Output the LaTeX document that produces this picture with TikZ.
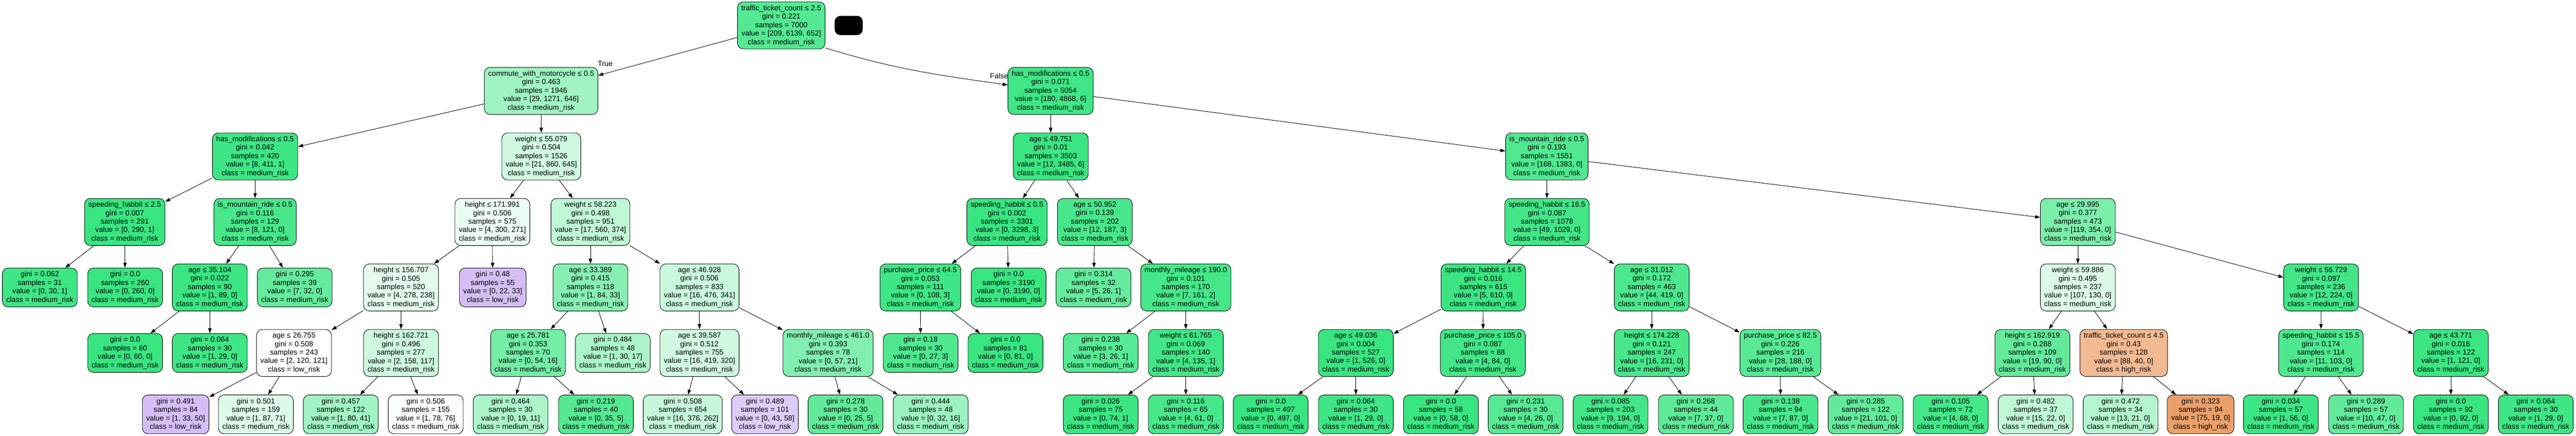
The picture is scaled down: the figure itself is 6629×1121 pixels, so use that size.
\documentclass[tikz,border=0pt]{standalone}
\usepackage{fontspec}
\setmainfont{Liberation Sans}
\usetikzlibrary{arrows.meta}
\definecolor{hirisk}{HTML}{E58139}
\definecolor{medrisk}{HTML}{39E581}
\definecolor{lorisk}{HTML}{8139E5}
\begin{document}
\begin{tikzpicture}[
  x=1pt,y=1pt,
  >={Triangle[length=13pt,width=9pt]},
  decision/.style={draw,rounded corners=15pt,very thick,minimum height=121pt,inner xsep=10pt,inner ysep=2pt,align=center},
  leaf/.style={draw,rounded corners=15pt,very thick,minimum height=100pt,inner xsep=10pt,inner ysep=2pt,align=center},
  blob/.style={draw,fill=black,rounded corners=15pt,minimum width=72pt,minimum height=49pt},
  every node/.style={font=\fontsize{19}{21.8}\selectfont}
]
\useasboundingbox (0,0) rectangle (6629,-1121);

% --- Nodes ---
% rank 0
\node[decision,fill=medrisk!86!white] (root) at (2010.5,-65.5) {traffic\_ticket\_count ≤ 2.5\\gini = 0.221\\samples = 7000\\value = [209, 6139, 652]\\class = medium\_risk};
\node[blob] (key) at (2184,-65.5) {};

% rank 1
\node[decision,fill=medrisk!48!white] (cmt) at (1392.5,-234) {commute\_with\_motorcycle ≤ 0.5\\gini = 0.463\\samples = 1946\\value = [29, 1271, 646]\\class = medium\_risk};
\node[decision,fill=medrisk!96!white] (hmA) at (2703.5,-234) {has\_modifications ≤ 0.5\\gini = 0.071\\samples = 5054\\value = [180, 4868, 6]\\class = medium\_risk};
\node (lblT) at (1557.5,-164.5) {True};
\node (lblF) at (2571,-195) {False};

% rank 2
\node[decision,fill=medrisk!98!white] (hmB) at (656.5,-402.5) {has\_modifications ≤ 0.5\\gini = 0.042\\samples = 420\\value = [8, 411, 1]\\class = medium\_risk};
\node[decision,fill=medrisk!24!white] (wtA) at (1393,-402.5) {weight ≤ 55.079\\gini = 0.504\\samples = 1526\\value = [21, 860, 645]\\class = medium\_risk};
\node[decision,fill=medrisk!99!white] (agA) at (2704,-402.5) {age ≤ 49.751\\gini = 0.01\\samples = 3503\\value = [12, 3485, 6]\\class = medium\_risk};
\node[decision,fill=medrisk!88!white] (mtA) at (3980.5,-402.5) {is\_mountain\_ride ≤ 0.5\\gini = 0.193\\samples = 1551\\value = [168, 1383, 0]\\class = medium\_risk};

% rank 3
\node[decision,fill=medrisk] (spA) at (321,-571) {speeding\_habbit ≤ 2.5\\gini = 0.007\\samples = 291\\value = [0, 290, 1]\\class = medium\_risk};
\node[decision,fill=medrisk!93!white] (mtB) at (656.5,-571) {is\_mountain\_ride ≤ 0.5\\gini = 0.116\\samples = 129\\value = [8, 121, 0]\\class = medium\_risk};
\node[decision,fill=medrisk!10!white] (htA) at (1267,-571) {height ≤ 171.991\\gini = 0.506\\samples = 575\\value = [4, 300, 271]\\class = medium\_risk};
\node[decision,fill=medrisk!32!white] (wtB) at (1519.5,-571) {weight ≤ 58.223\\gini = 0.498\\samples = 951\\value = [17, 560, 374]\\class = medium\_risk};
\node[decision,fill=medrisk] (spB) at (2591.5,-571) {speeding\_habbit ≤ 0.5\\gini = 0.002\\samples = 3301\\value = [0, 3298, 3]\\class = medium\_risk};
\node[decision,fill=medrisk!92!white] (agB) at (2817.5,-571) {age ≤ 50.952\\gini = 0.139\\samples = 202\\value = [12, 187, 3]\\class = medium\_risk};
\node[decision,fill=medrisk!95!white] (spC) at (3981,-571) {speeding\_habbit ≤ 16.5\\gini = 0.087\\samples = 1078\\value = [49, 1029, 0]\\class = medium\_risk};
\node[decision,fill=medrisk!66!white] (agC) at (5347,-571) {age ≤ 29.995\\gini = 0.377\\samples = 473\\value = [119, 354, 0]\\class = medium\_risk};

% rank 4
\node[leaf,fill=medrisk!97!white] (L1) at (102.5,-739.5) {gini = 0.062\\samples = 31\\value = [0, 30, 1]\\class = medium\_risk};
\node[leaf,fill=medrisk] (L2) at (322,-739.5) {gini = 0.0\\samples = 260\\value = [0, 260, 0]\\class = medium\_risk};
\node[decision,fill=medrisk!99!white] (agD) at (540,-739.5) {age ≤ 35.104\\gini = 0.022\\samples = 90\\value = [1, 89, 0]\\class = medium\_risk};
\node[leaf,fill=medrisk!78!white] (L3) at (758.5,-739.5) {gini = 0.295\\samples = 39\\value = [7, 32, 0]\\class = medium\_risk};
\node[decision,fill=medrisk!14!white] (htB) at (1032,-739.5) {height ≤ 156.707\\gini = 0.505\\samples = 520\\value = [4, 278, 238]\\class = medium\_risk};
\node[leaf,fill=lorisk!33!white] (L4) at (1268,-739.5) {gini = 0.48\\samples = 55\\value = [0, 22, 33]\\class = low\_risk};
\node[decision,fill=medrisk!60!white] (agE) at (1519.5,-739.5) {age ≤ 33.389\\gini = 0.415\\samples = 118\\value = [1, 84, 33]\\class = medium\_risk};
\node[decision,fill=medrisk!27!white] (agF) at (1800,-739.5) {age ≤ 46.928\\gini = 0.506\\samples = 833\\value = [16, 476, 341]\\class = medium\_risk};
\node[decision,fill=medrisk!97!white] (prA) at (2368.5,-739.5) {purchase\_price ≤ 64.5\\gini = 0.053\\samples = 111\\value = [0, 108, 3]\\class = medium\_risk};
\node[leaf,fill=medrisk] (L5) at (2595.5,-739.5) {gini = 0.0\\samples = 3190\\value = [0, 3190, 0]\\class = medium\_risk};
\node[leaf,fill=medrisk!78!white] (L6) at (2814,-739.5) {gini = 0.314\\samples = 32\\value = [5, 26, 1]\\class = medium\_risk};
\node[decision,fill=medrisk!94!white] (miA) at (3051.5,-739.5) {monthly\_mileage ≤ 190.0\\gini = 0.101\\samples = 170\\value = [7, 161, 2]\\class = medium\_risk};
\node[decision,fill=medrisk!99!white] (spD) at (3817,-739.5) {speeding\_habbit ≤ 14.5\\gini = 0.016\\samples = 615\\value = [5, 610, 0]\\class = medium\_risk};
\node[decision,fill=medrisk!90!white] (agG) at (4250.5,-739.5) {age ≤ 31.012\\gini = 0.172\\samples = 463\\value = [44, 419, 0]\\class = medium\_risk};
\node[decision,fill=medrisk!18!white] (wtC) at (5347,-739.5) {weight ≤ 59.886\\gini = 0.495\\samples = 237\\value = [107, 130, 0]\\class = medium\_risk};
\node[decision,fill=medrisk!95!white] (wtD) at (5973,-739.5) {weight ≤ 56.729\\gini = 0.097\\samples = 236\\value = [12, 224, 0]\\class = medium\_risk};

% rank 5
\node[leaf,fill=medrisk] (L7) at (322,-908) {gini = 0.0\\samples = 60\\value = [0, 60, 0]\\class = medium\_risk};
\node[leaf,fill=medrisk!97!white] (L8) at (540,-908) {gini = 0.064\\samples = 30\\value = [1, 29, 0]\\class = medium\_risk};
\node[decision,fill=lorisk!1!white] (agH) at (756.5,-908) {age ≤ 26.755\\gini = 0.508\\samples = 243\\value = [2, 120, 121]\\class = low\_risk};
\node[decision,fill=medrisk!26!white] (htC) at (1032,-908) {height ≤ 162.721\\gini = 0.496\\samples = 277\\value = [2, 158, 117]\\class = medium\_risk};
\node[decision,fill=medrisk!70!white] (agI) at (1359,-908) {age ≤ 25.781\\gini = 0.353\\samples = 70\\value = [0, 54, 16]\\class = medium\_risk};
\node[leaf,fill=medrisk!42!white] (L9) at (1577,-908) {gini = 0.484\\samples = 48\\value = [1, 30, 17]\\class = medium\_risk};
\node[decision,fill=medrisk!23!white] (agJ) at (1800,-908) {age ≤ 39.587\\gini = 0.512\\samples = 755\\value = [16, 419, 320]\\class = medium\_risk};
\node[decision,fill=medrisk!63!white] (miB) at (2131,-908) {monthly\_mileage ≤ 461.0\\gini = 0.393\\samples = 78\\value = [0, 57, 21]\\class = medium\_risk};
\node[leaf,fill=medrisk!89!white] (L10) at (2369,-908) {gini = 0.18\\samples = 30\\value = [0, 27, 3]\\class = medium\_risk};
\node[leaf,fill=medrisk] (L11) at (2587.5,-908) {gini = 0.0\\samples = 81\\value = [0, 81, 0]\\class = medium\_risk};
\node[leaf,fill=medrisk!85!white] (L12) at (2832.5,-908) {gini = 0.238\\samples = 30\\value = [3, 26, 1]\\class = medium\_risk};
\node[decision,fill=medrisk!96!white] (wtE) at (3051.5,-908) {weight ≤ 61.765\\gini = 0.069\\samples = 140\\value = [4, 135, 1]\\class = medium\_risk};
\node[decision,fill=medrisk] (agK) at (3489,-908) {age ≤ 49.036\\gini = 0.004\\samples = 527\\value = [1, 526, 0]\\class = medium\_risk};
\node[decision,fill=medrisk!95!white] (prB) at (3816,-908) {purchase\_price ≤ 105.0\\gini = 0.087\\samples = 88\\value = [4, 84, 0]\\class = medium\_risk};
\node[decision,fill=medrisk!93!white] (htD) at (4250.5,-908) {height ≤ 174.228\\gini = 0.121\\samples = 247\\value = [16, 231, 0]\\class = medium\_risk};
\node[decision,fill=medrisk!85!white] (prC) at (4581.5,-908) {purchase\_price ≤ 82.5\\gini = 0.226\\samples = 216\\value = [28, 188, 0]\\class = medium\_risk};
\node[decision,fill=medrisk!79!white] (htE) at (5230,-908) {height ≤ 162.919\\gini = 0.288\\samples = 109\\value = [19, 90, 0]\\class = medium\_risk};
\node[decision,fill=hirisk!55!white] (tkA) at (5465,-908) {traffic\_ticket\_count ≤ 4.5\\gini = 0.43\\samples = 128\\value = [88, 40, 0]\\class = high\_risk};
\node[decision,fill=medrisk!89!white] (spE) at (5972.5,-908) {speeding\_habbit ≤ 15.5\\gini = 0.174\\samples = 114\\value = [11, 103, 0]\\class = medium\_risk};
\node[decision,fill=medrisk!99!white] (agL) at (6307,-908) {age ≤ 43.771\\gini = 0.016\\samples = 122\\value = [1, 121, 0]\\class = medium\_risk};

% rank 6
\node[leaf,fill=lorisk!33!white] (L13) at (452,-1066) {gini = 0.491\\samples = 84\\value = [1, 33, 50]\\class = low\_risk};
\node[leaf,fill=medrisk!18!white] (L14) at (658.5,-1066) {gini = 0.501\\samples = 159\\value = [1, 87, 71]\\class = medium\_risk};
\node[leaf,fill=medrisk!48!white] (L15) at (877,-1066) {gini = 0.457\\samples = 122\\value = [1, 80, 41]\\class = medium\_risk};
\node[leaf,fill=medrisk!3!white] (L16) at (1095.5,-1066) {gini = 0.506\\samples = 155\\value = [1, 78, 76]\\class = medium\_risk};
\node[leaf,fill=medrisk!42!white] (L17) at (1314,-1066) {gini = 0.464\\samples = 30\\value = [0, 19, 11]\\class = medium\_risk};
\node[leaf,fill=medrisk!86!white] (L18) at (1533.5,-1066) {gini = 0.219\\samples = 40\\value = [0, 35, 5]\\class = medium\_risk};
\node[leaf,fill=medrisk!29!white] (L19) at (1757,-1066) {gini = 0.508\\samples = 654\\value = [16, 376, 262]\\class = medium\_risk};
\node[leaf,fill=lorisk!26!white] (L20) at (1968.5,-1066) {gini = 0.489\\samples = 101\\value = [0, 43, 58]\\class = low\_risk};
\node[leaf,fill=medrisk!80!white] (L21) at (2176,-1066) {gini = 0.278\\samples = 30\\value = [0, 25, 5]\\class = medium\_risk};
\node[leaf,fill=medrisk!50!white] (L22) at (2395,-1066) {gini = 0.444\\samples = 48\\value = [0, 32, 16]\\class = medium\_risk};
\node[leaf,fill=medrisk!99!white] (L23) at (2832.5,-1066) {gini = 0.026\\samples = 75\\value = [0, 74, 1]\\class = medium\_risk};
\node[leaf,fill=medrisk!93!white] (L24) at (3051.5,-1066) {gini = 0.116\\samples = 65\\value = [4, 61, 0]\\class = medium\_risk};
\node[leaf,fill=medrisk] (L25) at (3270,-1066) {gini = 0.0\\samples = 497\\value = [0, 497, 0]\\class = medium\_risk};
\node[leaf,fill=medrisk!97!white] (L26) at (3489,-1066) {gini = 0.064\\samples = 30\\value = [1, 29, 0]\\class = medium\_risk};
\node[leaf,fill=medrisk] (L27) at (3708,-1066) {gini = 0.0\\samples = 58\\value = [0, 58, 0]\\class = medium\_risk};
\node[leaf,fill=medrisk!85!white] (L28) at (3926,-1066) {gini = 0.231\\samples = 30\\value = [4, 26, 0]\\class = medium\_risk};
\node[leaf,fill=medrisk!95!white] (L29) at (4144.5,-1066) {gini = 0.085\\samples = 203\\value = [9, 194, 0]\\class = medium\_risk};
\node[leaf,fill=medrisk!81!white] (L30) at (4364,-1066) {gini = 0.268\\samples = 44\\value = [7, 37, 0]\\class = medium\_risk};
\node[leaf,fill=medrisk!92!white] (L31) at (4582,-1066) {gini = 0.138\\samples = 94\\value = [7, 87, 0]\\class = medium\_risk};
\node[leaf,fill=medrisk!79!white] (L32) at (4801,-1066) {gini = 0.285\\samples = 122\\value = [21, 101, 0]\\class = medium\_risk};
\node[leaf,fill=medrisk!94!white] (L33) at (5020,-1066) {gini = 0.105\\samples = 72\\value = [4, 68, 0]\\class = medium\_risk};
\node[leaf,fill=medrisk!32!white] (L34) at (5238.5,-1066) {gini = 0.482\\samples = 37\\value = [15, 22, 0]\\class = medium\_risk};
\node[leaf,fill=medrisk!38!white] (L35) at (5457,-1066) {gini = 0.472\\samples = 34\\value = [13, 21, 0]\\class = medium\_risk};
\node[leaf,fill=hirisk!75!white] (L36) at (5663,-1066) {gini = 0.323\\samples = 94\\value = [75, 19, 0]\\class = high\_risk};
\node[leaf,fill=medrisk!98!white] (L37) at (5869.5,-1066) {gini = 0.034\\samples = 57\\value = [1, 56, 0]\\class = medium\_risk};
\node[leaf,fill=medrisk!79!white] (L38) at (6088.5,-1066) {gini = 0.289\\samples = 57\\value = [10, 47, 0]\\class = medium\_risk};
\node[leaf,fill=medrisk] (L39) at (6307,-1066) {gini = 0.0\\samples = 92\\value = [0, 92, 0]\\class = medium\_risk};
\node[leaf,fill=medrisk!97!white] (L40) at (6525.5,-1066) {gini = 0.064\\samples = 30\\value = [1, 29, 0]\\class = medium\_risk};

% --- Arrows ---
% root -> True / False branches
\draw[->,very thick] (root) -- (cmt);
\draw[->,very thick] (root.-27) to[out=-17,in=172] (hmA);
% rank 1 -> rank 2
\draw[->,very thick] (cmt) -- (hmB);  \draw[->,very thick] (cmt) -- (wtA);
\draw[->,very thick] (hmA) -- (agA);  \draw[->,very thick] (hmA) -- (mtA);
% rank 2 -> rank 3
\draw[->,very thick] (hmB) -- (spA);  \draw[->,very thick] (hmB) -- (mtB);
\draw[->,very thick] (wtA) -- (htA);  \draw[->,very thick] (wtA) -- (wtB);
\draw[->,very thick] (agA) -- (spB);  \draw[->,very thick] (agA) -- (agB);
\draw[->,very thick] (mtA) -- (spC);  \draw[->,very thick] (mtA) -- (agC);
% rank 3 -> rank 4
\draw[->,very thick] (spA) -- (L1);   \draw[->,very thick] (spA) -- (L2);
\draw[->,very thick] (mtB) -- (agD);  \draw[->,very thick] (mtB) -- (L3);
\draw[->,very thick] (htA) -- (htB);  \draw[->,very thick] (htA) -- (L4);
\draw[->,very thick] (wtB) -- (agE);  \draw[->,very thick] (wtB) -- (agF);
\draw[->,very thick] (spB) -- (prA);  \draw[->,very thick] (spB) -- (L5);
\draw[->,very thick] (agB) -- (L6);   \draw[->,very thick] (agB) -- (miA);
\draw[->,very thick] (spC) -- (spD);  \draw[->,very thick] (spC) -- (agG);
\draw[->,very thick] (agC) -- (wtC);  \draw[->,very thick] (agC) -- (wtD);
% rank 4 -> rank 5
\draw[->,very thick] (agD) -- (L7);   \draw[->,very thick] (agD) -- (L8);
\draw[->,very thick] (htB) -- (agH);  \draw[->,very thick] (htB) -- (htC);
\draw[->,very thick] (agE) -- (agI);  \draw[->,very thick] (agE) -- (L9);
\draw[->,very thick] (agF) -- (agJ);  \draw[->,very thick] (agF) -- (miB);
\draw[->,very thick] (prA) -- (L10);  \draw[->,very thick] (prA) -- (L11);
\draw[->,very thick] (miA) -- (L12);  \draw[->,very thick] (miA) -- (wtE);
\draw[->,very thick] (spD) -- (agK);  \draw[->,very thick] (spD) -- (prB);
\draw[->,very thick] (agG) -- (htD);  \draw[->,very thick] (agG) -- (prC);
\draw[->,very thick] (wtC) -- (htE);  \draw[->,very thick] (wtC) -- (tkA);
\draw[->,very thick] (wtD) -- (spE);  \draw[->,very thick] (wtD) -- (agL);
% rank 5 -> rank 6
\draw[->,very thick] (agH) -- (L13);  \draw[->,very thick] (agH) -- (L14);
\draw[->,very thick] (htC) -- (L15);  \draw[->,very thick] (htC) -- (L16);
\draw[->,very thick] (agI) -- (L17);  \draw[->,very thick] (agI) -- (L18);
\draw[->,very thick] (agJ) -- (L19);  \draw[->,very thick] (agJ) -- (L20);
\draw[->,very thick] (miB) -- (L21);  \draw[->,very thick] (miB) -- (L22);
\draw[->,very thick] (wtE) -- (L23);  \draw[->,very thick] (wtE) -- (L24);
\draw[->,very thick] (agK) -- (L25);  \draw[->,very thick] (agK) -- (L26);
\draw[->,very thick] (prB) -- (L27);  \draw[->,very thick] (prB) -- (L28);
\draw[->,very thick] (htD) -- (L29);  \draw[->,very thick] (htD) -- (L30);
\draw[->,very thick] (prC) -- (L31);  \draw[->,very thick] (prC) -- (L32);
\draw[->,very thick] (htE) -- (L33);  \draw[->,very thick] (htE) -- (L34);
\draw[->,very thick] (tkA) -- (L35);  \draw[->,very thick] (tkA) -- (L36);
\draw[->,very thick] (spE) -- (L37);  \draw[->,very thick] (spE) -- (L38);
\draw[->,very thick] (agL) -- (L39);  \draw[->,very thick] (agL) -- (L40);

\end{tikzpicture}
\end{document}
